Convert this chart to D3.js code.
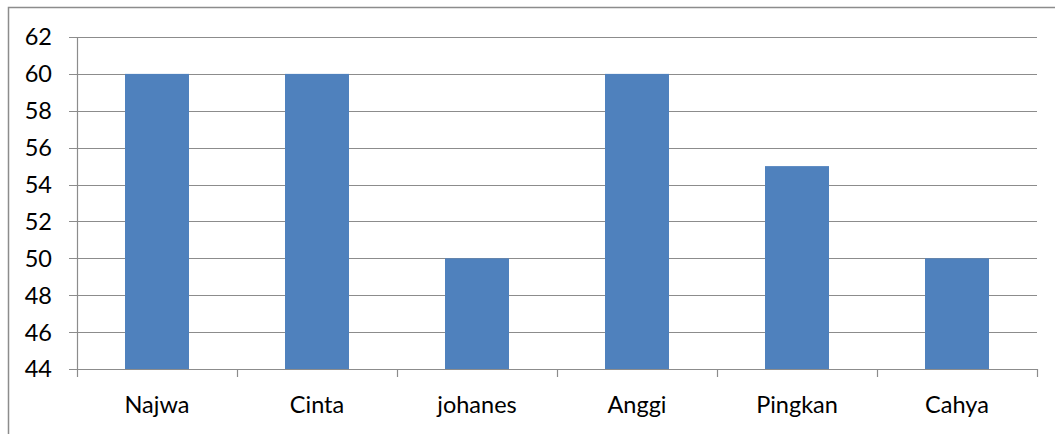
<!DOCTYPE html>
<html>
<head>
<meta charset="utf-8">
<script src="https://cdn.jsdelivr.net/npm/d3@7"></script>
<style>
  body { margin: 0; background: #fff; }
  text { font-family: Lato, "Open Sans", sans-serif; fill: #000; }
</style>
</head>
<body>
<svg id="chart"></svg>
<script>
// chart values
var names = ["Najwa", "Cinta", "johanes", "Anggi", "Pingkan", "Cahya"];
var scores = [60, 60, 50, 60, 55, 50];
var yTicks = [44, 46, 48, 50, 52, 54, 56, 58, 60, 62];

var width = 1055, height = 434;
var margin = { top: 37, right: 18, bottom: 65, left: 77 };

var svg = d3.select("#chart")
    .attr("width", width)
    .attr("height", height);

// outer frame (runs off the right and bottom edges)
svg.append("path")
    .attr("d", "M8.5," + (height + 5) + " V7.5 H" + (width + 5))
    .attr("fill", "none")
    .attr("stroke", "#8c8c8c")
    .attr("stroke-width", 1.5);

var x = d3.scaleBand()
    .domain(names)
    .range([margin.left, width - margin.right])
    .paddingInner(0.6)
    .paddingOuter(0.3);

var y = d3.scaleLinear()
    .domain([44, 62])
    .range([height - margin.bottom, margin.top]);

// gridlines
svg.append("g")
    .selectAll("line")
    .data(yTicks)
    .enter().append("line")
    .attr("x1", margin.left - 8)
    .attr("x2", width - margin.right)
    .attr("y1", function(d) { return Math.round(y(d)) + 0.5; })
    .attr("y2", function(d) { return Math.round(y(d)) + 0.5; })
    .attr("stroke", "#8c8c8c")
    .attr("stroke-width", 1.2);

// y axis line
svg.append("line")
    .attr("x1", margin.left + 0.5).attr("x2", margin.left + 0.5)
    .attr("y1", margin.top).attr("y2", height - margin.bottom)
    .attr("stroke", "#8c8c8c")
    .attr("stroke-width", 1.2);

// y labels
svg.append("g")
    .selectAll("text")
    .data(yTicks)
    .enter().append("text")
    .attr("x", 52)
    .attr("y", function(d) { return y(d); })
    .attr("dy", "0.36em")
    .attr("text-anchor", "end")
    .style("font-size", "23.5px")
    .text(function(d) { return d; });

// category ticks between the bands
var bandW = (width - margin.right - margin.left) / names.length;
svg.append("g")
    .selectAll("line")
    .data(d3.range(names.length + 1))
    .enter().append("line")
    .attr("x1", function(i) { return Math.round(margin.left + i * bandW) + 0.5; })
    .attr("x2", function(i) { return Math.round(margin.left + i * bandW) + 0.5; })
    .attr("y1", height - margin.bottom)
    .attr("y2", height - margin.bottom + 8)
    .attr("stroke", "#8c8c8c")
    .attr("stroke-width", 1.2);

// bars
svg.append("g")
    .selectAll("rect")
    .data(names)
    .enter().append("rect")
    .attr("x", function(d) { return x(d); })
    .attr("width", x.bandwidth())
    .attr("y", function(d, i) { return y(scores[i]); })
    .attr("height", function(d, i) { return y(44) - y(scores[i]); })
    .attr("fill", "#4f81bd");

// category labels
svg.append("g")
    .selectAll("text")
    .data(names)
    .enter().append("text")
    .attr("x", function(d) { return x(d) + x.bandwidth() / 2; })
    .attr("y", 413)
    .attr("text-anchor", "middle")
    .style("font-size", "23.5px")
    .text(function(d) { return d; });
</script>
</body>
</html>
